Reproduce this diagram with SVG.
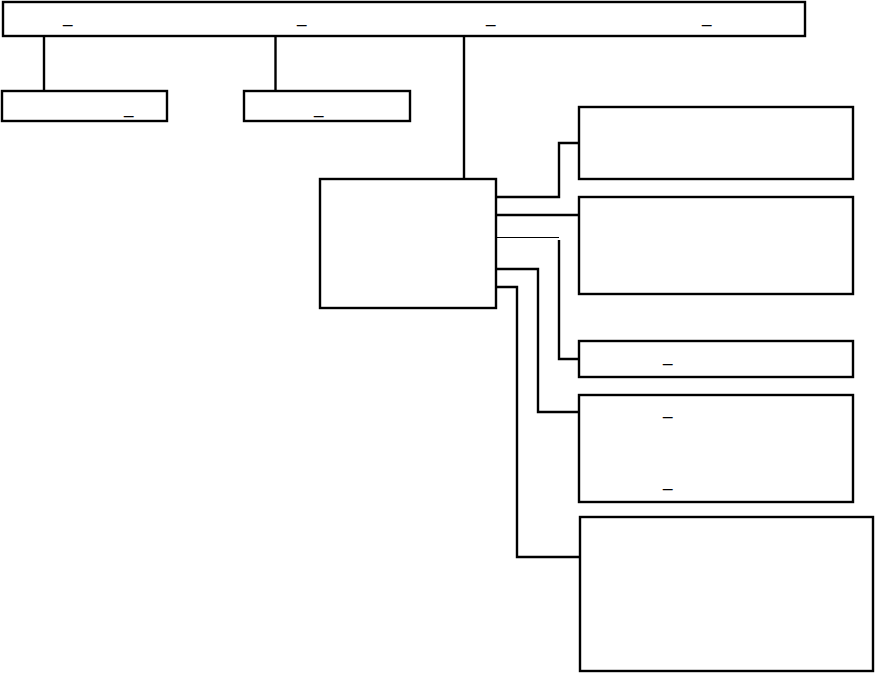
<svg xmlns="http://www.w3.org/2000/svg" width="875" height="673" viewBox="0 0 875 673">
<style>
.box{fill:#fff;stroke:#000;stroke-width:2.4}
.ln{fill:none;stroke:#000;stroke-width:2.4}
.thin{fill:none;stroke:#000;stroke-width:1}
.t{font-family:"Liberation Sans","Noto Sans CJK SC",sans-serif;font-size:17px;fill:#000}
</style>
<rect width="875" height="673" fill="#fff"/>
<g id="connectors">
<path class="ln" d="M44,37 V90"/>
<path class="ln" d="M275.5,37 V90" stroke="#444"/>
<path class="ln" d="M464,37 V178"/>
<path class="ln" d="M496,197 H559 V143 H579"/>
<path class="ln" d="M496,215 H579"/>
<path class="thin" d="M496,237.5 H559"/>
<path class="ln" d="M559,240 V359 H579"/>
<path class="ln" d="M496,269 H538 V412 H579"/>
<path class="ln" d="M496,287 H517 V557 H580"/>
</g>
<g id="top">
<rect class="box" x="3" y="2" width="802" height="34"/>
<text class="t" x="63" y="23">_</text>
<text class="t" x="297" y="23">_</text>
<text class="t" x="486" y="23">_</text>
<text class="t" x="702" y="23">_</text>
</g>
<g id="left1">
<rect class="box" x="2" y="91" width="165" height="30"/>
<text class="t" x="124" y="114">_</text>
</g>
<g id="left2">
<rect class="box" x="244" y="91" width="166" height="30"/>
<text class="t" x="314" y="114">_</text>
</g>
<g id="mid">
<rect class="box" x="320" y="179" width="176" height="129"/>
</g>
<g id="r1">
<rect class="box" x="579" y="107" width="274" height="72"/>
</g>
<g id="r2">
<rect class="box" x="579" y="197" width="274" height="97"/>
</g>
<g id="r3">
<rect class="box" x="579" y="341" width="274" height="36"/>
<text class="t" x="663" y="362">_</text>
</g>
<g id="r4">
<rect class="box" x="579" y="395" width="274" height="107"/>
<text class="t" x="663" y="415">_</text>
<text class="t" x="663" y="487">_</text>
</g>
<g id="r5">
<rect class="box" x="580" y="517" width="293" height="154"/>
</g>
</svg>
